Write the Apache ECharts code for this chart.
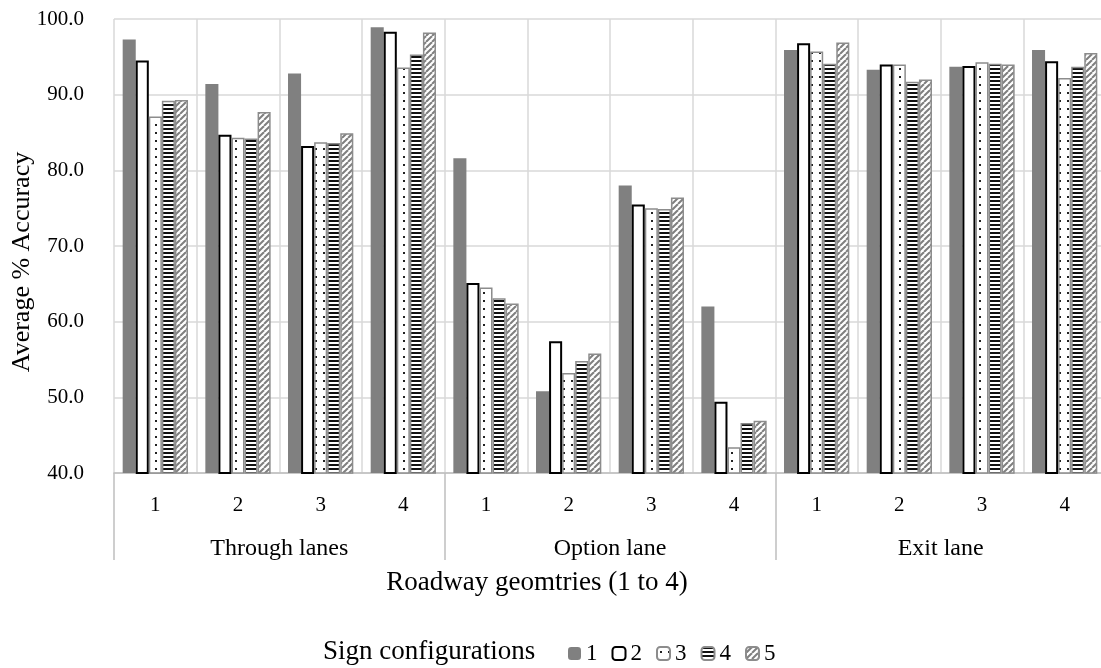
<!DOCTYPE html>
<html>
<head>
<meta charset="utf-8">
<script src="https://cdn.jsdelivr.net/npm/echarts@6/dist/echarts.min.js"></script>
<style>
html,body{margin:0;padding:0;background:#fff;}
#chart{width:1101px;height:668px;}
</style>
</head>
<body>
<div id="chart"></div>
<script>
// ---- data ----
const categories = ['1','2','3','4','1','2','3','4','1','2','3','4'];
const groups = ['Through lanes','Option lane','Exit lane'];
const seriesNames = ['1','2','3','4','5'];
const sign1 = [97.3, 91.4, 92.8, 98.9, 81.6, 50.8, 78.0, 62.0, 95.9, 93.3, 93.7, 95.9];
const sign2 = [94.5, 84.7, 83.2, 98.3, 65.1, 57.4, 75.5, 49.4, 96.8, 94.0, 93.8, 94.4];
const sign3 = [87.1, 84.3, 83.7, 93.6, 64.5, 53.2, 75.0, 43.4, 95.7, 94.0, 94.3, 92.2];
const sign4 = [89.2, 84.2, 83.6, 95.3, 63.1, 54.8, 74.9, 46.6, 94.1, 91.7, 94.1, 93.7];
const sign5 = [89.3, 87.7, 84.9, 98.2, 62.4, 55.8, 76.4, 46.9, 96.9, 92.0, 94.0, 95.5];
const yMin = 40, yMax = 100, yInterval = 10;
const yTitle = 'Average % Accuracy';
const xTitle = 'Roadway geomtries (1 to 4)';
const legendTitle = 'Sign configurations';

// ---- patterns ----
function makeCanvas(w, h, draw) {
  const c = document.createElement('canvas');
  c.width = w; c.height = h;
  const ctx = c.getContext('2d');
  draw(ctx, w, h);
  return c;
}
const dotPattern = makeCanvas(8, 8, (ctx, w, h) => {
  ctx.fillStyle = '#ffffff'; ctx.fillRect(0, 0, w, h);
  ctx.fillStyle = '#222222'; ctx.fillRect(3, 4, 2, 2);
});
const stripePattern = makeCanvas(4, 4, (ctx, w, h) => {
  ctx.fillStyle = '#ffffff'; ctx.fillRect(0, 0, w, h);
  ctx.fillStyle = '#111111'; ctx.fillRect(0, 0, w, 2);
});
const hatchPattern = makeCanvas(6, 6, (ctx, w, h) => {
  ctx.fillStyle = '#ffffff'; ctx.fillRect(0, 0, w, h);
  ctx.strokeStyle = '#7f7f7f'; ctx.lineWidth = 2;
  for (let k = -1; k <= 1; k++) {
    ctx.beginPath();
    ctx.moveTo(k * w, h);
    ctx.lineTo(k * w + w, 0);
    ctx.stroke();
  }
});

const FONT = 'Liberation Serif';
const chart = echarts.init(document.getElementById('chart'));

const styles = [
  { color: '#808080', borderWidth: 0 },
  { color: '#ffffff', borderColor: '#000000', borderWidth: 2 },
  { color: { image: dotPattern, repeat: 'repeat' }, borderColor: '#8c8c8c', borderWidth: 1.5 },
  { color: { image: stripePattern, repeat: 'repeat' }, borderColor: '#8c8c8c', borderWidth: 1.5 },
  { color: { image: hatchPattern, repeat: 'repeat' }, borderColor: '#8c8c8c', borderWidth: 1.5 }
];
const values = [sign1, sign2, sign3, sign4, sign5];

const option = {
  animation: false,
  backgroundColor: '#ffffff',
  textStyle: { fontFamily: FONT },
  grid: { left: 114, right: -5, top: 19, bottom: 195, outerBoundsMode: 'none', containLabel: false },
  legend: {
    data: seriesNames,
    left: 563,
    top: 637,
    itemWidth: 13,
    itemHeight: 13,
    itemGap: 14,
    textStyle: { fontFamily: FONT, fontSize: 23, color: '#000' }
  },
  graphic: [
    {
      type: 'text', x: 323, y: 652,
      style: { text: legendTitle, font: '27px "Liberation Serif"', fill: '#000', align: 'left', verticalAlign: 'middle' }
    },
    {
      type: 'text', x: 537, y: 583,
      style: { text: xTitle, font: '27px "Liberation Serif"', fill: '#000', align: 'center', verticalAlign: 'middle' }
    },
    {
      type: 'text', x: 22, y: 262, rotation: Math.PI / 2,
      style: { text: yTitle, font: '26px "Liberation Serif"', fill: '#000', align: 'center', verticalAlign: 'middle' }
    }
  ],
  xAxis: [
    {
      type: 'category',
      data: categories,
      boundaryGap: true,
      axisLine: { lineStyle: { color: '#bfbfbf', width: 1.5 } },
      axisTick: { show: false },
      axisLabel: { interval: 0, margin: 22, fontSize: 21, color: '#000', fontFamily: FONT },
      splitLine: { show: true, interval: 0, lineStyle: { color: '#d9d9d9', width: 1.5 } }
    },
    {
      type: 'category',
      data: groups,
      position: 'bottom',
      boundaryGap: true,
      axisLine: { show: false },
      axisTick: { show: true, length: 87, lineStyle: { color: '#bfbfbf', width: 1.5 } },
      axisLabel: { interval: 0, margin: 64, fontSize: 24, color: '#000', fontFamily: FONT },
      splitLine: { show: false }
    }
  ],
  yAxis: {
    type: 'value',
    min: yMin, max: yMax, interval: yInterval,
    axisLine: { show: false },
    axisTick: { show: false },
    axisLabel: { margin: 30, fontSize: 21, color: '#000', fontFamily: FONT, formatter: v => v.toFixed(1) },
    splitLine: { show: true, lineStyle: { color: '#d9d9d9', width: 1.5 } }
  },
  series: seriesNames.map((name, i) => ({
    name: name,
    type: 'bar',
    xAxisIndex: 0,
    data: values[i],
    barGap: '0%',
    barCategoryGap: '21%',
    itemStyle: styles[i]
  }))
};
chart.setOption(option);
</script>
</body>
</html>
